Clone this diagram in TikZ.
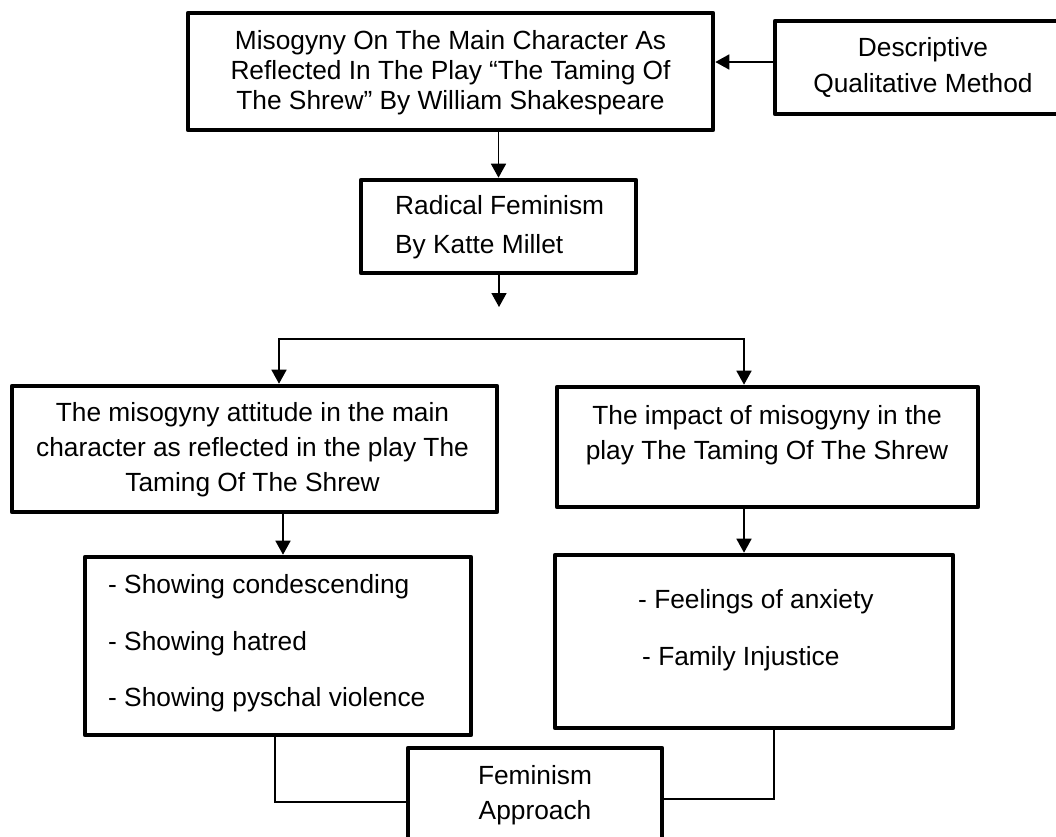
\documentclass[tikz,border=0pt]{standalone}
\usepackage{fontspec}
\setmainfont{Liberation Sans}
\usetikzlibrary{arrows.meta}
\begin{document}
\begin{tikzpicture}[x=1pt,y=-1pt,
  box/.style={draw=black, line width=4.6pt, inner sep=0pt, rectangle, line join=round},
  txt/.style={inner sep=0pt, align=center},
  conn/.style={draw=black, line width=1.6pt},
  arr/.style={conn, -{Triangle[length=14pt,width=15pt]}},
  fsA/.style={font={\fontsize{26.3}{30}\selectfont}},
  fsB/.style={font={\fontsize{26.3}{36}\selectfont}},
  fsC/.style={font={\fontsize{26.3}{39}\selectfont}},
  fsD/.style={font={\fontsize{26.3}{35}\selectfont}},
  fsE/.style={font={\fontsize{26.3}{56.5}\selectfont}}
]
\useasboundingbox (0,0) rectangle (1056,836);
\clip (0,0) rectangle (1056,836);
\fill[white] (0,0) rectangle (1056,836);

% boxes
\node[box, minimum width=525pt, minimum height=117pt] (top) at (450.5,71.5) {};
\node[box, minimum width=296pt, minimum height=93pt] (desc) at (923,67.5) {};
\node[box, minimum width=275pt, minimum height=93pt] (rad) at (498.5,226.5) {};
\node[box, minimum width=485pt, minimum height=126pt] (lb) at (254.5,449) {};
\node[box, minimum width=421pt, minimum height=120pt] (rb) at (767.5,447) {};
\node[box, minimum width=386pt, minimum height=178pt] (ll) at (278,646) {};
\node[box, minimum width=398pt, minimum height=173pt] (rl) at (754,641.5) {};
\node[box, minimum width=254pt, minimum height=130pt] (fe) at (535,813) {};

% texts
\node[txt, fsA] (topT) at (450.5,73) {Misogyny On The Main Character As\\Reflected In The Play “The Taming Of\\The Shrew” By William Shakespeare};
\node[txt, fsB] (descT) at (923,67) {Descriptive\\Qualitative Method};
\node[txt, fsC, align=left, anchor=west] (radT) at (395,227.5) {Radical Feminism\\By Katte Millet};
\node[txt, fsD] (lbT) at (252.5,450) {The misogyny attitude in the main\\character as reflected in the play The\\Taming Of The Shrew};
\node[txt, fsD] (rbT) at (767,435.5) {The impact of misogyny in the\\play The Taming Of The Shrew};
\node[txt, fsE, align=left, anchor=west] (llT) at (108,643.5) {- Showing condescending\\- Showing hatred\\- Showing pyschal violence};
\node[txt, fsE, align=left, anchor=west] (rlT) at (638,630) {- Feelings of anxiety\\\hspace*{4pt}- Family Injustice};
\node[txt, fsD] (feT) at (535,795.5) {Feminism\\Approach};

% connectors
\coordinate (dA) at ([yshift=5.5pt]desc.west);
\draw[arr] (dA) -- (dA -| top.east);
\draw[arr] (top.south -| rad.north) -- (rad.north);
\coordinate (dang) at (499,307);
\draw[arr] (rad.south -| dang) -- (dang);
\coordinate (brL) at (279,339);
\coordinate (brR) at (744,339);
\draw[conn, {Triangle[length=14pt,width=15pt]}-{Triangle[length=14pt,width=15pt]}]
  (brL |- lb.north) -- (brL) -- (brR) -- (brR |- rb.north);
\coordinate (cL) at (283,0);
\draw[arr] (lb.south -| cL) -- (ll.north -| cL);
\coordinate (cR) at (744,0);
\draw[arr] (rb.south -| cR) -- (rl.north -| cR);
\coordinate (jL) at (275,802);
\draw[conn] (ll.south -| jL) -- (jL) -- (jL -| fe.west);
\coordinate (jR) at (774,799);
\draw[conn] (rl.south -| jR) -- (jR) -- (jR -| fe.east);
\end{tikzpicture}
\end{document}
